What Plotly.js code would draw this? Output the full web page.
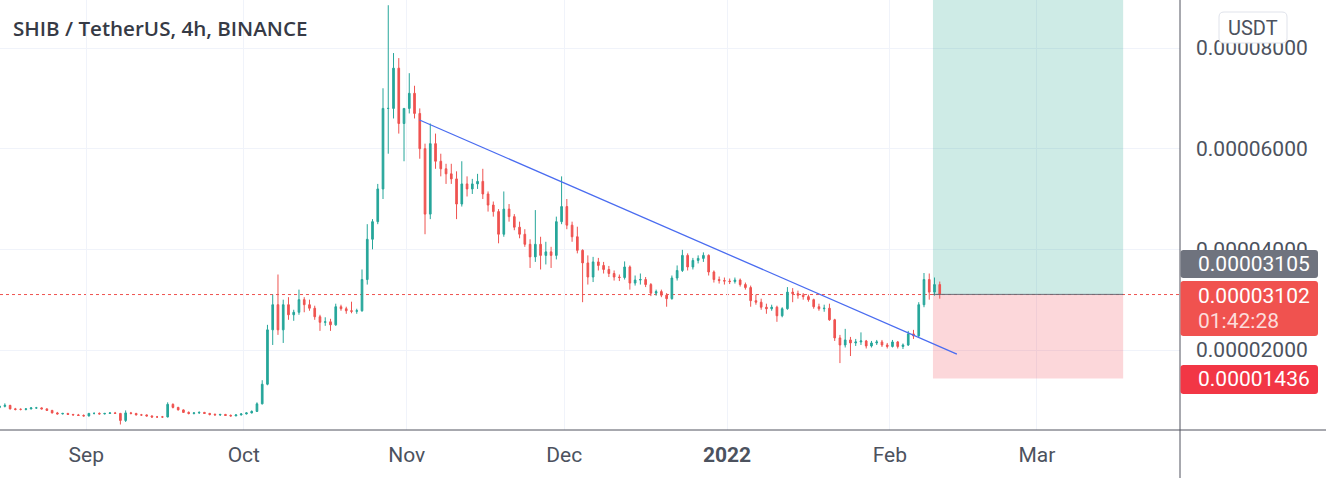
<!DOCTYPE html>
<html>
<head>
<meta charset="utf-8">
<script src="https://cdn.plot.ly/plotly-3.0.1.min.js"></script>
<style>html,body{margin:0;padding:0;background:#fff;}#chart{width:1326px;height:478px;}</style>
</head>
<body>
<div id="chart"></div>
<script>
// ---- DATA (prices in millionths of USDT, i.e. value * 1e-6) ----
const firstDay = [2021, 7, 15]; // 2021-08-15, one candle per day
const opens = [
 8.6,8.8,9.0,8.3,8.2,8.2,8.3,8.5,8.5,8.3,8.0,7.5,7.3,7.4,7.2,7.1,7.0,
 6.9,7.4,7.4,7.3,7.4,7.5,7.4,6.0,7.5,7.4,7.1,7.1,6.9,6.7,6.7,6.7,9.2,8.6,8.1,7.6,7.4,7.5,7.6,7.4,7.2,7.1,7.2,7.0,6.9,7.1,
 7.3,7.5,7.8,9.3,13.2,24,29,24,29,27,27.5,30,29,28.3,26.6,25.5,25.6,25,28.6,28.2,27.8,27.7,27.8,34,42,45.5,52,68,68,76,65,
 68,71,67,60,47,61,57.5,56,55,54,49,53,52,53,53.5,51,48.8,47.5,43,48,46.5,44.4,43,41,38.5,41,38.8,39.5,38.8,45.5,
 48.5,44.8,42.5,39.8,37.3,34.5,37.5,36.8,36,35.2,34.5,34.4,36.5,33.3,33.9,34,33,31.3,31.6,30.9,30.2,34.3,35.8,38.8,36.5,37.8,38.2,38.8,35.5,34,33.8,
 33.7,33.6,33.9,33,32.4,29.8,29.5,28.5,28.2,28.5,26.8,28.2,31.5,31.2,30.9,30.6,30,28.6,28.2,28.3,26,22.4,21,22,21.4,21.6,21.8,20.8,21.4,21.6,21,
 20.7,21.6,20.7,21,23.2,22.8,29,34,31.5,33
];
const highs = [
 9.0,9.4,9.1,8.5,8.4,8.4,8.6,8.7,8.6,8.4,8.1,7.7,7.5,7.5,7.3,7.3,7.2,
 7.5,7.6,7.6,7.5,7.6,7.7,7.5,8.0,7.7,7.5,7.3,7.2,7.0,6.9,6.9,9.6,9.4,8.7,8.2,7.8,7.6,7.8,7.7,7.5,7.4,7.3,7.3,7.2,7.2,7.4,
 7.6,8.0,9.6,14.0,25,31,35,30,30.5,28,32,30.5,30,28.8,27,26.5,26.2,29.2,29,28.6,29.6,28.2,36,45,46,53,72,88.5,79,78,68,
 75,72.5,68,61,65,63,59,57,57,55.5,57.5,54.5,54,55,56,51.5,49.5,48,51.5,49,47,45.5,44,42,47.8,42.5,41.5,40.5,46.5,54.5,
 50,45.5,44.5,40,38.8,38.5,38.3,37.5,36.7,35.8,35,37.6,36.8,34.8,35.2,34.5,33.3,32,32,31.3,34.8,36.8,39.9,39.2,38.3,38.8,39.4,39,35.8,34.6,34.4,
 34.2,34.4,34.2,33.4,32.8,31,30.2,29.2,29,28.8,28.5,32.5,32.3,31.8,31.3,31,30.2,29.2,29,29.2,26.2,23,24.2,22.6,22.2,23.5,22,21.8,22,22,21.4,
 22,21.8,21.3,23.8,24,29.5,35.3,35.2,34.4,33.6
];
const lows = [
 8.4,8.6,8.2,8.0,8.0,8.0,8.2,8.3,8.2,7.9,7.4,7.2,7.2,7.1,7.0,6.9,6.8,
 6.8,7.2,7.2,7.2,7.3,7.3,5.2,5.7,7.2,7.0,6.9,6.8,6.5,6.5,6.5,6.6,8.4,8.0,7.5,7.2,7.2,7.3,7.3,7.0,7.0,6.9,6.9,6.8,6.9,7.0,
 7.2,7.4,7.7,9.2,13.0,21,23,21.4,26,25.8,27,27.5,27.8,26,23.8,24.8,23.8,24.8,27.8,27.2,27.3,27.2,27.6,33,40,45,50,59,66,63,57.5,
 67,66,58,43,46,56,54.5,53,53,46,48.5,50.5,51,52,50,47.5,46.5,41.2,42.5,45.5,43.8,42.2,40.5,36.3,37.5,36,37,36.3,38,45,
 44,41.5,39.2,29.5,33,33.5,35.8,35.2,34.5,33.8,33.7,34,32,32.8,33,32.5,30.7,30.8,30.5,28.6,30,33.8,35.5,35.8,36,37.2,37.5,34.8,33.4,33.2,33,
 33.1,33.2,32.6,32,28.6,29,28,27.2,27.8,25.6,26.5,28,29.5,30.2,30,29.6,28.2,27.8,27.6,25.8,21.8,17.4,20.5,18.8,20.8,21,20.3,20.5,21,20.6,20.3,
 20.5,20.3,20.2,20.8,22.2,22.5,28.5,30,30.8,30.2
];
const closes = [
 8.8,9.0,8.3,8.2,8.2,8.3,8.5,8.5,8.3,8.0,7.5,7.3,7.4,7.2,7.1,7.0,6.9,
 7.4,7.4,7.3,7.4,7.5,7.4,6.0,7.5,7.4,7.1,7.1,6.9,6.7,6.7,6.7,9.2,8.6,8.1,7.6,7.4,7.5,7.6,7.4,7.2,7.1,7.2,7.0,6.9,7.1,7.3,
 7.5,7.8,9.3,13.2,24,29,24,29,27,27.5,30,29,28.3,26.6,25.5,25.6,25,28.6,28.2,27.8,27.7,27.8,34,42,45.5,52,68,68,76,65,68,
 71,67,60,47,61,57.5,56,55,54,49,53,52,53,53.5,51,48.8,47.5,43,48,46.5,44.4,43,41,38.5,41,38.8,39.5,38.8,45.5,48.5,
 44.8,42.5,39.8,37.3,34.5,37.5,36.8,36,35.2,34.5,34.4,36.5,33.3,33.9,34,33,31.3,31.6,30.9,30.2,34.3,35.8,38.8,36.5,37.8,38.2,38.8,35.5,34,33.8,33.7,
 33.6,33.9,33,32.4,29.8,29.5,28.5,28.2,28.5,26.8,28.2,31.5,31.2,30.9,30.6,30,28.6,28.2,28.3,26,22.4,21,22,21.4,21.6,21.8,20.8,21.4,21.6,21,20.7,
 21.6,20.7,21,23.2,22.8,29,34,31.5,33,31.02
];
const UNIT = 1e-6;
const monthTicks = ['2021-09-01','2021-10-01','2021-11-01','2021-12-01','2022-01-01','2022-02-01','2022-03-01'];
const monthLabels = ['Sep','Oct','Nov','Dec','<b>2022</b>','Feb','Mar'];
const priceTicks = [20, 40, 60, 80];
const trendDates = ['2021-11-03 10:48', '2022-02-13 18:14'];
const trendValues = [65.7, 19.2];
const positionDates = ['2022-02-09 05:00', '2022-03-17 10:00'];
const entryPrice = 31.05, stopPrice = 14.36, targetPrice = 95, lastPrice = 31.02;
const countdown = '01:42:28';
const titleText = 'SHIB / TetherUS, 4h, BINANCE';
const currency = 'USDT';

// ---- build ----
const dates = opens.map((_, i) => {
  const d = new Date(Date.UTC(firstDay[0], firstDay[1], firstDay[2] + i, 12));
  return d.toISOString().slice(0, 16).replace('T', ' ');
});
const sc = a => a.map(v => v * UNIT);
const fmt = v => (v * UNIT).toFixed(8);

const UP = '#26a69a', DN = '#ef5350';
const candles = {
  type: 'candlestick', x: dates,
  open: sc(opens), high: sc(highs), low: sc(lows), close: sc(closes),
  increasing: {line: {color: UP, width: 1}, fillcolor: UP},
  decreasing: {line: {color: DN, width: 1}, fillcolor: DN},
  whiskerwidth: 0, hoverinfo: 'skip', showlegend: false
};
const trend = {
  type: 'scatter', mode: 'lines', x: trendDates, y: sc(trendValues),
  line: {color: '#4a6cf0', width: 1.3}, hoverinfo: 'skip', showlegend: false
};

// plot-area pixel helpers for overlay elements in the price scale
const PL = 0, PR = 1180, PT = 0, PB = 430;
const px = x => (x - PL) / (PR - PL);
const py = y => 1 - (y - PT) / (PB - PT);
function rr(x0, y0, x1, y1, r) {
  return `M${px(x0 + r)},${py(y0)} L${px(x1 - r)},${py(y0)} Q${px(x1)},${py(y0)} ${px(x1)},${py(y0 + r)} ` +
         `L${px(x1)},${py(y1 - r)} Q${px(x1)},${py(y1)} ${px(x1 - r)},${py(y1)} L${px(x0 + r)},${py(y1)} ` +
         `Q${px(x0)},${py(y1)} ${px(x0)},${py(y1 - r)} L${px(x0)},${py(y0 + r)} Q${px(x0)},${py(y0)} ${px(x0 + r)},${py(y0)} Z`;
}

const shapes = [
  {type: 'rect', xref: 'x', yref: 'y', x0: positionDates[0], x1: positionDates[1], y0: entryPrice * UNIT, y1: targetPrice * UNIT,
   fillcolor: 'rgba(8,153,129,0.2)', line: {width: 0}, layer: 'between'},
  {type: 'rect', xref: 'x', yref: 'y', x0: positionDates[0], x1: positionDates[1], y0: stopPrice * UNIT, y1: entryPrice * UNIT,
   fillcolor: 'rgba(242,54,69,0.2)', line: {width: 0}, layer: 'between'},
  {type: 'line', xref: 'x', yref: 'y', x0: positionDates[0], x1: positionDates[1], y0: entryPrice * UNIT, y1: entryPrice * UNIT,
   line: {color: '#6a6d78', width: 1}, layer: 'above'},
  {type: 'line', xref: 'paper', yref: 'y', x0: 0, x1: 1, y0: lastPrice * UNIT, y1: lastPrice * UNIT,
   line: {color: DN, width: 1, dash: 'dot'}, layer: 'between'},
  {type: 'line', xref: 'paper', yref: 'paper', x0: 0, x1: px(1326), y0: py(430), y1: py(430), line: {color: '#50535e', width: 1}, layer: 'above'},
  {type: 'line', xref: 'paper', yref: 'paper', x0: px(1180), x1: px(1180), y0: py(0), y1: py(478), line: {color: '#50535e', width: 1}, layer: 'above'},
  {type: 'path', xref: 'paper', yref: 'paper', path: rr(1180.5, 250, 1318, 278, 3), fillcolor: '#6f737e', line: {width: 0}, layer: 'above'},
  {type: 'path', xref: 'paper', yref: 'paper', path: rr(1180.5, 281, 1318, 336, 3), fillcolor: '#f0524f', line: {width: 0}, layer: 'above'},
  {type: 'path', xref: 'paper', yref: 'paper', path: rr(1180.5, 365, 1318, 394, 3), fillcolor: '#f23645', line: {width: 0}, layer: 'above'},
  {type: 'path', xref: 'paper', yref: 'paper', path: rr(1219, 12, 1287, 43, 5), fillcolor: '#ffffff', line: {color: '#e0e3eb', width: 1}, layer: 'above'}
];

const lblFont = {family: 'Roboto, sans-serif', size: 21, color: '#ffffff'};
const annotations = [
  {xref: 'paper', yref: 'paper', x: px(11), y: py(28), xanchor: 'left', yanchor: 'middle', showarrow: false,
   text: titleText, font: {family: 'Open Sans, sans-serif', size: 20.6, weight: 600, color: '#363a45'}},
  {xref: 'paper', yref: 'paper', x: px(1196), y: py(264), xanchor: 'left', yanchor: 'middle', showarrow: false,
   text: fmt(entryPrice), font: lblFont},
  {xref: 'paper', yref: 'paper', x: px(1196), y: py(296), xanchor: 'left', yanchor: 'middle', showarrow: false,
   text: fmt(lastPrice), font: lblFont},
  {xref: 'paper', yref: 'paper', x: px(1196), y: py(321), xanchor: 'left', yanchor: 'middle', showarrow: false,
   text: countdown, font: {family: 'Roboto, sans-serif', size: 21, color: '#fcdcdb'}},
  {xref: 'paper', yref: 'paper', x: px(1196), y: py(379), xanchor: 'left', yanchor: 'middle', showarrow: false,
   text: fmt(stopPrice), font: lblFont},
  {xref: 'paper', yref: 'paper', x: px(1253), y: py(28), xanchor: 'center', yanchor: 'middle', showarrow: false,
   text: currency, font: {family: 'Roboto, sans-serif', size: 20, color: '#4c525e'}}
];

const layout = {
  width: 1326, height: 478,
  margin: {l: 0, r: 146, t: 0, b: 48, pad: 0},
  paper_bgcolor: '#ffffff', plot_bgcolor: '#ffffff',
  showlegend: false,
  boxgap: 0.55,
  xaxis: {
    type: 'date', range: ['2021-08-15 13:50', '2022-03-28 05:50'],
    rangeslider: {visible: false},
    tickmode: 'array', tickvals: monthTicks, ticktext: monthLabels,
    showgrid: true, gridcolor: '#f0f3fa', gridwidth: 1,
    showline: false, zeroline: false, ticks: '', ticklabelstandoff: 10,
    tickfont: {family: 'Roboto, sans-serif', size: 21, color: '#4c525e'}
  },
  yaxis: {
    side: 'right', range: [4.106 * UNIT, 89.54 * UNIT],
    tickmode: 'array', tickvals: priceTicks.map(v => v * UNIT), ticktext: priceTicks.map(fmt),
    showgrid: true, gridcolor: '#f0f3fa', gridwidth: 1,
    showline: false, zeroline: false, ticks: '', ticklabelstandoff: 15,
    tickfont: {family: 'Roboto, sans-serif', size: 21, color: '#4c525e'}
  },
  shapes: shapes,
  annotations: annotations
};

Plotly.newPlot('chart', [candles, trend], layout, {displayModeBar: false, staticPlot: true});
</script>
</body>
</html>
